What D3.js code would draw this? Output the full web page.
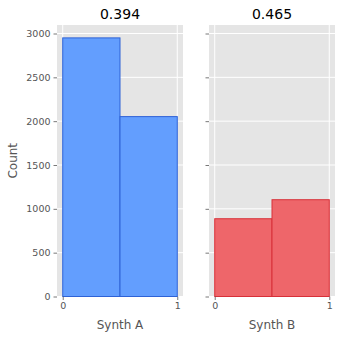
<!DOCTYPE html>
<html>
<head>
<meta charset="utf-8">
<script src="https://cdn.jsdelivr.net/npm/d3@7"></script>
<style>
  body { margin: 0; background: #fff; }
  text { font-family: "DejaVu Sans", sans-serif; }
</style>
</head>
<body>
<div class="chart"></div>
<script>
// histogram bins (two bins each, edges 0 / 0.5 / 1)
var binEdges = [0, 0.5, 1];
var synthACounts = [2950, 2052];
var synthBCounts = [887, 1104];
var panelTitles = ["0.394", "0.465"];
var panelLabels = ["Synth A", "Synth B"];
var yTicks = [0, 500, 1000, 1500, 2000, 2500, 3000];
var xTicks = [0, 1];

var svgWidth = 346;
var svgHeight = 337;

var svg = d3.select(".chart")
  .append("svg")
  .attr("width", svgWidth)
  .attr("height", svgHeight);

// shared y scale
var plotTop = 25, plotBottom = 296.5;
var yScale = d3.scaleLinear()
  .domain([0, 3097])
  .range([plotBottom, plotTop]);

var panels = [
  { left: 57, right: 183, counts: synthACounts, fill: "#639efe", stroke: "#2e62d6", showY: true },
  { left: 209, right: 335, counts: synthBCounts, fill: "#ee666a", stroke: "#d73038", showY: false }
];

panels.forEach(function (p, i) {
  var g = svg.append("g");

  var xScale = d3.scaleLinear()
    .domain([-0.05, 1.05])
    .range([p.left, p.right]);

  // background
  g.append("rect")
    .attr("x", p.left)
    .attr("y", plotTop)
    .attr("width", p.right - p.left)
    .attr("height", plotBottom - plotTop)
    .attr("fill", "#e5e5e5");

  // grid
  g.selectAll(".hgrid")
    .data(yTicks)
    .enter()
    .append("line")
    .attr("x1", p.left)
    .attr("x2", p.right)
    .attr("y1", d => yScale(d))
    .attr("y2", d => yScale(d))
    .attr("stroke", "#fff")
    .attr("stroke-width", 1);

  g.selectAll(".vgrid")
    .data(xTicks)
    .enter()
    .append("line")
    .attr("x1", d => xScale(d))
    .attr("x2", d => xScale(d))
    .attr("y1", plotTop)
    .attr("y2", plotBottom)
    .attr("stroke", "#fff")
    .attr("stroke-width", 1);

  // bars
  var bins = p.counts.map(function (c, j) {
    return { x0: binEdges[j], x1: binEdges[j + 1], count: c };
  });

  g.selectAll(".bar")
    .data(bins)
    .enter()
    .append("rect")
    .attr("x", d => xScale(d.x0))
    .attr("y", d => yScale(d.count))
    .attr("width", d => xScale(d.x1) - xScale(d.x0))
    .attr("height", d => yScale(0) - yScale(d.count))
    .attr("fill", p.fill)
    .attr("stroke", p.stroke)
    .attr("stroke-width", 1);

  // axes
  var yAxis = d3.axisLeft(yScale)
    .tickValues(yTicks)
    .tickSize(3.5)
    .tickPadding(3)
    .tickFormat(p.showY ? d3.format("d") : "");

  var yg = g.append("g")
    .attr("transform", `translate(${p.left}, 0)`)
    .call(yAxis);

  var xAxis = d3.axisBottom(xScale)
    .tickValues(xTicks)
    .tickSize(3.5)
    .tickPadding(2)
    .tickFormat(d3.format("d"));

  var xg = g.append("g")
    .attr("transform", `translate(0, ${plotBottom})`)
    .call(xAxis);

  [yg, xg].forEach(function (a) {
    a.select(".domain").remove();
    a.selectAll(".tick line").attr("stroke", "#555555").attr("stroke-width", 0.8);
    a.selectAll(".tick text")
      .attr("fill", "#555555")
      .style("font-size", "9.5px")
      .style("font-family", "DejaVu Sans");
  });

  // title
  g.append("text")
    .attr("x", (p.left + p.right) / 2)
    .attr("y", 19)
    .attr("text-anchor", "middle")
    .style("font-size", "14px")
    .attr("fill", "#000")
    .text(panelTitles[i]);

  // x label
  g.append("text")
    .attr("x", (p.left + p.right) / 2)
    .attr("y", 329)
    .attr("text-anchor", "middle")
    .style("font-size", "12px")
    .attr("fill", "#555555")
    .text(panelLabels[i]);
});

// y label
svg.append("text")
  .attr("transform", `translate(17, ${(plotTop + plotBottom) / 2}) rotate(-90)`)
  .attr("text-anchor", "middle")
  .style("font-size", "12px")
  .attr("fill", "#555555")
  .text("Count");
</script>
</body>
</html>
